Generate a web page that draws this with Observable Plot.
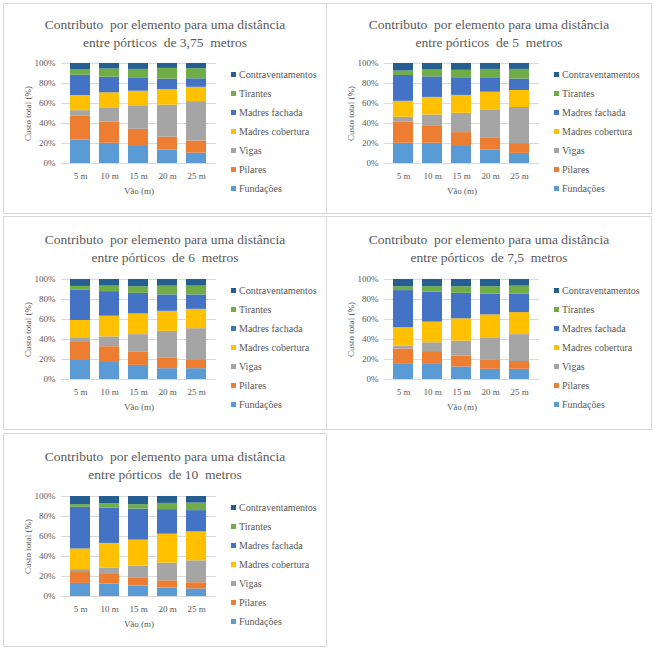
<!DOCTYPE html>
<html><head><meta charset="utf-8">
<script src="https://cdn.jsdelivr.net/npm/d3@7"></script>
<script src="https://cdn.jsdelivr.net/npm/@observablehq/plot@0.6"></script>
<style>
body{margin:0;background:#fff;font-family:"Liberation Serif","Times New Roman",serif;}
#root{position:relative;width:656px;height:651px;}
.panel{position:absolute;border:1px solid #d9d9d9;box-sizing:border-box;background:#fff;}
.title{position:absolute;left:0;right:0;text-align:center;font-family:"Liberation Serif","Times New Roman",serif;font-size:13.5px;color:#595959;line-height:18px;white-space:pre;}
.chart{position:absolute;left:0;}
.legend{position:absolute;left:227px;font-family:"Liberation Serif","Times New Roman",serif;font-size:10px;color:#595959;}
.item{height:19px;display:flex;align-items:center;white-space:nowrap;}
.sw{width:5px;height:5px;margin-right:3px;flex:none;}
</style></head><body><div id="root"></div>
<script>
const spans = ["5 m","10 m","15 m","20 m","25 m"];
const elements = ["Fundações","Pilares","Vigas","Madres cobertura","Madres fachada","Tirantes","Contraventamentos"];
const colors = ["#5B9BD5","#ED7D31","#A5A5A5","#FFC000","#4472C4","#70AD47","#255E91"];
const distances = ["3,75","5","6","7,5","10"];
// rows: elements order, columns: spans (percent of total cost)
const d375 = [
  [23.5,20.2,17.0,13.4,10.4],
  [23.7,21.2,17.2,13.0,12.1],
  [5.6,13.6,22.8,31.9,39.4],
  [15.2,15.7,15.3,15.6,14.3],
  [20.3,15.6,13.4,10.5,8.5],
  [5.2,8.2,8.4,10.7,10.1],
  [6.5,5.5,5.9,4.9,5.2]
];
const d5 = [
  [20.2,20.2,17.0,13.4,10.1],
  [21.2,17.6,13.9,12.3,9.8],
  [4.9,10.7,19.3,28.0,36.1],
  [15.9,17.6,17.9,17.6,17.0],
  [25.8,20.5,16.9,13.7,11.4],
  [4.5,6.9,8.2,9.1,9.7],
  [7.5,6.5,6.8,5.9,5.9]
];
const d6 = [
  [19.0,17.0,14.1,10.8,10.8],
  [18.0,15.8,13.1,10.8,8.2],
  [4.0,9.8,17.7,26.6,31.8],
  [18.0,20.7,20.7,20.0,19.4],
  [30.2,24.6,20.6,16.4,14.4],
  [3.9,5.5,6.6,8.8,8.8],
  [6.9,6.6,7.2,6.6,6.6]
];
const d75 = [
  [15.1,15.1,12.5,10.2,10.2],
  [15.4,12.8,10.8,9.5,7.8],
  [2.9,8.8,15.1,21.3,26.9],
  [18.4,20.7,22.3,23.6,22.0],
  [37.1,30.1,25.5,20.6,18.3],
  [3.9,5.3,6.6,7.6,8.2],
  [7.2,7.2,7.2,7.2,6.6]
];
const d10 = [
  [13.1,12.5,10.5,8.5,7.5],
  [11.8,9.5,8.2,7.2,6.3],
  [2.0,6.5,11.8,17.7,21.9],
  [20.6,24.6,25.9,28.9,28.9],
  [41.7,35.4,31.1,24.6,21.3],
  [2.6,4.3,4.3,6.2,7.5],
  [8.2,7.2,8.2,6.9,6.6]
];
const yTicks = [0,0.2,0.4,0.6,0.8,1];
const datasets = [d375,d5,d6,d75,d10];
const boxes = [
  {left:3,top:3,width:324,height:211,dy:0},
  {left:326,top:3,width:326,height:211,dy:0},
  {left:3,top:216,width:324,height:214,dy:3},
  {left:326,top:216,width:326,height:214,dy:3},
  {left:3,top:433,width:324,height:214,dy:3}
];
const root = document.getElementById("root");
datasets.forEach((d,k)=>{
  const b = boxes[k];
  const panel = document.createElement("div");
  panel.className = "panel";
  Object.assign(panel.style,{left:b.left+"px",top:b.top+"px",width:b.width+"px",height:b.height+"px"});
  const t = document.createElement("div");
  t.className = "title";
  t.style.top = (12 + b.dy/2) + "px";
  t.textContent = "Contributo  por elemento para uma distância\nentre pórticos  de " + distances[k] + "  metros";
  panel.appendChild(t);
  const rows = elements.flatMap((e,i)=>spans.map((s,j)=>({span:s,element:e,value:d[i][j]})));
  const chart = Plot.plot({
    width:225, height:150, marginLeft:57, marginRight:13, marginTop:9, marginBottom:41,
    style:{fontFamily:"'Liberation Serif', serif", fontSize:"9px", color:"#595959", background:"transparent"},
    x:{domain:spans, padding:0.31, axis:null},
    y:{domain:[0,1], axis:null},
    color:{domain:elements, range:colors},
    marks:[
      Plot.gridY(yTicks,{stroke:"#d9d9d9", strokeOpacity:1}),
      Plot.barY(rows,{x:"span", y:"value", fill:"element", offset:"normalize", order:elements}),
      Plot.axisX({tickSize:0, tickPadding:9, label:"Vão (m)", labelAnchor:"center", labelOffset:30}),
      Plot.axisY(yTicks,{tickFormat:d3.format(".0%"), tickSize:0, tickPadding:6, label:"Custo total (%)", labelAnchor:"center", labelArrow:"none", labelOffset:37})
    ]
  });
  chart.classList.add("chart");
  chart.style.top = (50 + b.dy) + "px";
  panel.appendChild(chart);
  const lg = document.createElement("div");
  lg.className = "legend";
  lg.style.top = (61 + b.dy) + "px";
  for (let i = elements.length-1; i>=0; i--) {
    const it = document.createElement("div"); it.className="item";
    const sw = document.createElement("span"); sw.className="sw"; sw.style.background = colors[i];
    it.appendChild(sw);
    it.appendChild(document.createTextNode(elements[i]));
    lg.appendChild(it);
  }
  panel.appendChild(lg);
  root.appendChild(panel);
});
</script></body></html>
